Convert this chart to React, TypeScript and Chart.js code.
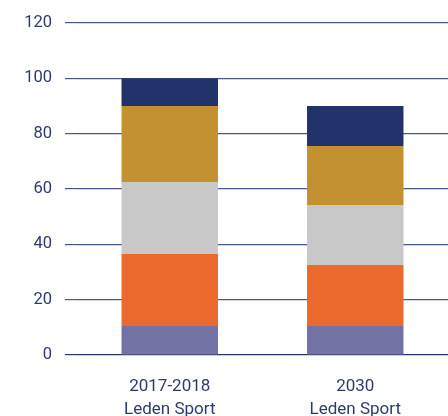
import React, { useEffect, useRef } from "react";
import { Chart, registerables } from "chart.js";

Chart.register(...registerables);

const categories: string[][] = [["2017-2018", "Leden Sport"], ["2030", "Leden Sport"]];
const seriesA: number[] = [10.5, 10.5];
const seriesB: number[] = [26, 22];
const seriesC: number[] = [26, 21.5];
const seriesD: number[] = [27.5, 21.5];
const seriesE: number[] = [10, 14.5];
const colors = ["#7272a5", "#ec692d", "#c8c8c8", "#c49131", "#22336b"];
const yTicks: number[] = [0, 20, 40, 60, 80, 100, 120];

export default function App() {
  const ref = useRef<HTMLCanvasElement | null>(null);
  useEffect(() => {
    if (!ref.current) return;
    const data = [seriesA, seriesB, seriesC, seriesD, seriesE];
    const chart = new Chart(ref.current, {
      type: "bar",
      data: {
        labels: categories,
        datasets: data.map((d, i) => ({
          label: "s" + i,
          data: d,
          backgroundColor: colors[i],
          borderWidth: 0,
          barPercentage: 0.52,
          categoryPercentage: 1,
        })),
      },
      options: {
        animation: false,
        responsive: false,
        maintainAspectRatio: false,
        layout: { padding: { top: 20, right: 0, left: 0, bottom: 0 } },
        plugins: { legend: { display: false }, tooltip: { enabled: false } },
        scales: {
          x: {
            stacked: true,
            grid: { display: false },
            border: { display: false },
            ticks: {
              color: "#2e3a6e",
              font: { family: "Roboto", size: 17, lineHeight: 1.35 },
              padding: 12,
              maxRotation: 0,
            },
            afterFit: (s: any) => { s.height = 61; },
          },
          y: {
            stacked: true,
            min: 0,
            max: 120,
            afterBuildTicks: (s: any) => { s.ticks = yTicks.map((v) => ({ value: v })); },
            grid: {
              color: (c: any) => (c.tick && c.tick.value === 0 ? "#2a3366" : "#4a5589"),
              lineWidth: 1.2,
              tickLength: 12,
              drawTicks: true,
            },
            border: { display: false },
            ticks: {
              color: "#2e3a6e",
              font: { family: "Roboto", size: 16.5 },
              padding: 13,
            },
            afterFit: (s: any) => { s.width = 77; },
          },
        },
      },
    });
    return () => chart.destroy();
  }, []);
  return (
    <div style={{ position: "fixed", left: 0, top: 0, width: 448, height: 416, background: "#fff" }}>
      <canvas ref={ref} width={448} height={416} style={{ width: 448, height: 416 }} />
    </div>
  );
}
